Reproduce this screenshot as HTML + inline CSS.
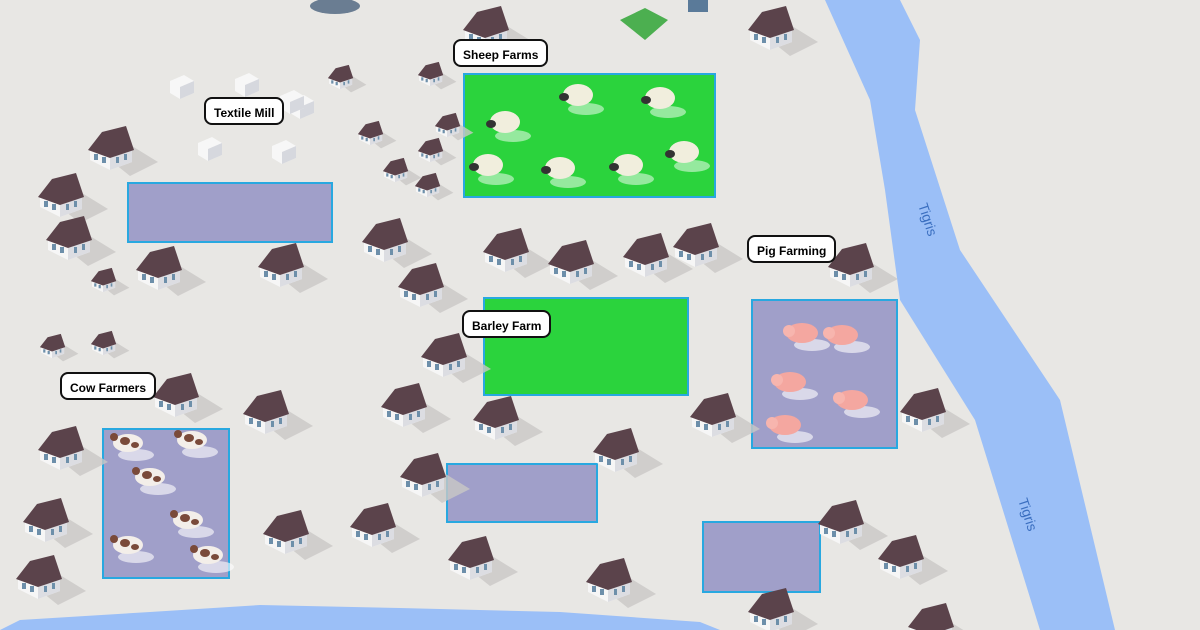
<!DOCTYPE html>
<html><head><style>
body{margin:0;width:1200px;height:630px;overflow:hidden;background:#e8e7e4;font-family:"Liberation Sans",sans-serif}
.l{position:absolute;background:#fff;border:2px solid #111;border-radius:8px;font-size:12px;font-weight:bold;padding:0 8px;height:28px;line-height:28px;box-sizing:border-box}
</style></head><body>
<svg width="1200" height="630" style="position:absolute;left:0;top:0">
<defs>
<g id="h">
<polygon points="-5,8 22,-2 48,14 20,28" fill="#c9c8c5" opacity=".8"/>
<polygon points="-20,0 0,-8 22,2 22,14 0,22 -20,12" fill="#f6f6f6"/>
<polygon points="0,22 22,14 22,2 0,10" fill="#dcdde2"/>
<polygon points="-22,2 -8,-16 16,-22 24,2 0,10" fill="#5b434b"/>
<rect x="-16" y="6" width="4" height="6" fill="#6d8faa"/><rect x="-8" y="9" width="4" height="6" fill="#6d8faa"/><rect x="6" y="9" width="3" height="6" fill="#6d8faa"/><rect x="14" y="6" width="3" height="6" fill="#6d8faa"/>
</g>
<g id="s"><use href="#h" transform="scale(.55)"/></g>
<g id="w"><polygon points="-10,-4 4,-10 14,-4 14,8 0,14 -10,8" fill="#f7f7f7"/><polygon points="0,14 14,8 14,-4 0,2" fill="#d6d8de"/></g>
<g id="sheep"><ellipse cx="8" cy="14" rx="18" ry="6" fill="#fff" opacity=".5"/><ellipse cx="0" cy="0" rx="15" ry="11" fill="#f1eedd"/><ellipse cx="-14" cy="2" rx="5" ry="4" fill="#333"/></g>
<g id="pig"><ellipse cx="10" cy="12" rx="18" ry="6" fill="#fff" opacity=".6"/><ellipse cx="0" cy="0" rx="16" ry="10" fill="#f4a7a0"/><ellipse cx="-13" cy="-2" rx="6" ry="6" fill="#f7b5ae"/></g>
<g id="cow"><ellipse cx="8" cy="12" rx="18" ry="6" fill="#fff" opacity=".6"/><ellipse cx="0" cy="0" rx="15" ry="9" fill="#f3eee9"/><ellipse cx="-3" cy="-2" rx="5" ry="4" fill="#7a4a3a"/><ellipse cx="7" cy="2" rx="4" ry="3" fill="#7a4a3a"/><ellipse cx="-14" cy="-6" rx="4" ry="4" fill="#7a4a3a"/></g>
</defs>
<polygon points="825,0 900,0 920,40 915,110 960,250 1060,400 1115,630 1040,630 975,420 900,300 885,190 870,100" fill="#9bbff7"/>
<path d="M0,630 L20,620 L150,612 L260,605 L400,608 L560,612 L700,622 L720,630 Z" fill="#9bbff7"/>
<text x="918" y="205" transform="rotate(72 918 205)" font-size="14" fill="#3b6fc0" font-family="Liberation Sans">Tigris</text>
<text x="1018" y="500" transform="rotate(72 1018 500)" font-size="14" fill="#3b6fc0" font-family="Liberation Sans">Tigris</text>
<rect x="464" y="74" width="251" height="123" fill="#2bd33d" stroke="#28a8e0" stroke-width="2"/>
<rect x="484" y="298" width="204" height="97" fill="#2bd33d" stroke="#28a8e0" stroke-width="2"/>
<g fill="#a09fc9" stroke="#28a8e0" stroke-width="2">
<rect x="128" y="183" width="204" height="59"/><rect x="752" y="300" width="145" height="148"/><rect x="103" y="429" width="126" height="149"/><rect x="447" y="464" width="150" height="58"/><rect x="703" y="522" width="117" height="70"/></g>
<use href="#sheep" x="505" y="122"/><use href="#sheep" x="578" y="95"/><use href="#sheep" x="660" y="98"/><use href="#sheep" x="488" y="165"/><use href="#sheep" x="560" y="168"/><use href="#sheep" x="628" y="165"/><use href="#sheep" x="684" y="152"/>
<use href="#pig" x="802" y="333"/><use href="#pig" x="842" y="335"/><use href="#pig" x="790" y="382"/><use href="#pig" x="852" y="400"/><use href="#pig" x="785" y="425"/>
<use href="#cow" x="128" y="443"/><use href="#cow" x="192" y="440"/><use href="#cow" x="150" y="477"/><use href="#cow" x="188" y="520"/><use href="#cow" x="128" y="545"/><use href="#cow" x="208" y="555"/>
<g>
<use href="#h" x="110" y="148"/><use href="#h" x="60" y="195"/><use href="#h" x="68" y="238"/><use href="#h" x="158" y="268"/><use href="#h" x="280" y="265"/><use href="#h" x="384" y="240"/><use href="#h" x="420" y="285"/><use href="#h" x="505" y="250"/><use href="#h" x="570" y="262"/><use href="#h" x="645" y="255"/><use href="#h" x="695" y="245"/><use href="#h" x="850" y="265"/><use href="#h" x="443" y="355"/><use href="#h" x="175" y="395"/><use href="#h" x="265" y="412"/><use href="#h" x="60" y="448"/><use href="#h" x="403" y="405"/><use href="#h" x="495" y="418"/><use href="#h" x="615" y="450"/><use href="#h" x="712" y="415"/><use href="#h" x="922" y="410"/><use href="#h" x="422" y="475"/><use href="#h" x="45" y="520"/><use href="#h" x="285" y="532"/><use href="#h" x="372" y="525"/><use href="#h" x="470" y="558"/><use href="#h" x="608" y="580"/><use href="#h" x="840" y="522"/><use href="#h" x="900" y="557"/><use href="#h" x="38" y="577"/><use href="#h" x="770" y="610"/><use href="#h" x="930" y="625"/><use href="#h" x="485" y="28"/><use href="#h" x="770" y="28"/>
<use href="#s" x="340" y="77"/><use href="#s" x="430" y="74"/><use href="#s" x="370" y="133"/><use href="#s" x="447" y="125"/><use href="#s" x="430" y="150"/><use href="#s" x="395" y="170"/><use href="#s" x="427" y="185"/><use href="#s" x="103" y="280"/><use href="#s" x="52" y="346"/><use href="#s" x="103" y="343"/>
<use href="#w" x="180" y="85"/><use href="#w" x="245" y="83"/><use href="#w" x="300" y="105"/><use href="#w" x="290" y="100"/><use href="#w" x="208" y="147"/><use href="#w" x="282" y="150"/>
</g>
<polygon points="620,20 645,8 668,20 645,40" fill="#4caf50"/><rect x="688" y="0" width="20" height="12" fill="#5a7a99"/>
<ellipse cx="335" cy="6" rx="25" ry="8" fill="#6a7d92"/>
</svg>
<div class="l" style="left:453px;top:39px">Sheep Farms</div>
<div class="l" style="left:204px;top:97px">Textile Mill</div>
<div class="l" style="left:747px;top:235px">Pig Farming</div>
<div class="l" style="left:462px;top:310px">Barley Farm</div>
<div class="l" style="left:60px;top:372px">Cow Farmers</div>
</body></html>
